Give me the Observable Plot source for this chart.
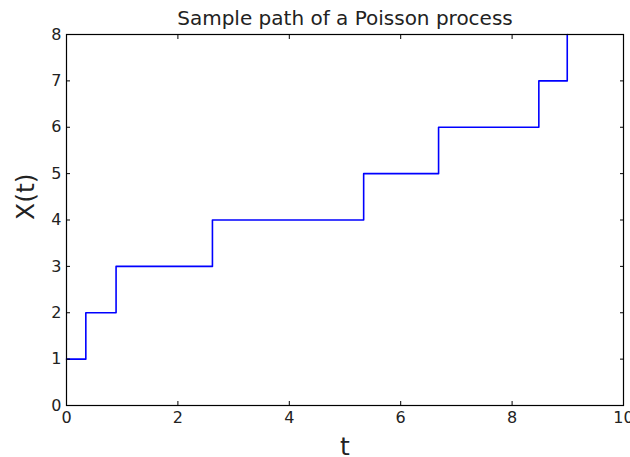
<!DOCTYPE html>
<html>
<head>
<meta charset="utf-8">
<script src="https://cdn.jsdelivr.net/npm/d3@7"></script>
<script src="https://cdn.jsdelivr.net/npm/@observablehq/plot@0.6"></script>
<style>
  html, body { margin: 0; padding: 0; background: #fff; }
  svg { font-family: "DejaVu Sans", sans-serif; }
</style>
</head>
<body>
<div id="chart"></div>
<script>
const jumpTimes = [0, 0.347, 0.89, 2.62, 5.335, 6.68, 8.48, 8.99];
const counts = [1, 2, 3, 4, 5, 6, 7, 8];
const xTicks = [0, 2, 4, 6, 8, 10];
const yTicks = [0, 1, 2, 3, 4, 5, 6, 7, 8];
const title = "Sample path of a Poisson process";
const xLabel = "t";
const yLabel = "X(t)";

const data = jumpTimes.map((t, i) => ({t, x: counts[i]}));
const noText = () => "";

const chart = Plot.plot({
  width: 630,
  height: 457,
  marginLeft: 66,
  marginRight: 7,
  marginTop: 34,
  marginBottom: 52,
  style: {fontFamily: "DejaVu Sans, sans-serif", fontSize: "16px", color: "#000", background: "#fff"},
  x: {domain: [0, 10]},
  y: {domain: [0, 8]},
  marks: [
    Plot.line(data, {x: "t", y: "x", curve: "step-after", stroke: "#0000ff", strokeWidth: 1.6}),
    Plot.frame({stroke: "#000", strokeWidth: 1.2}),
    Plot.axisX(xTicks, {anchor: "bottom", tickSize: -4, tickFormat: noText, label: null, stroke: "#000"}),
    Plot.axisX(xTicks, {anchor: "top", tickSize: -4, tickFormat: noText, label: null, stroke: "#000"}),
    Plot.axisY(yTicks, {anchor: "left", tickSize: -4, tickFormat: noText, label: null, stroke: "#000"}),
    Plot.axisY(yTicks, {anchor: "right", tickSize: -4, tickFormat: noText, label: null, stroke: "#000"}),
    Plot.axisX(xTicks, {anchor: "bottom", tickSize: 0, tickPadding: 6, label: null, fontSize: 16, fill: "#222"}),
    Plot.axisY(yTicks, {anchor: "left", tickSize: 0, tickPadding: 5, label: null, fontSize: 16, fill: "#222"}),
    Plot.text([title], {frameAnchor: "top", dy: -16, lineAnchor: "middle", fontSize: 20, fill: "#222"}),
    Plot.text([xLabel], {frameAnchor: "bottom", dy: 41, lineAnchor: "middle", fontSize: 25, fill: "#222"}),
    Plot.text([yLabel], {frameAnchor: "left", dx: -41, rotate: -90, lineAnchor: "middle", fontSize: 25, fill: "#222"})
  ]
});
document.getElementById("chart").appendChild(chart);
</script>
</body>
</html>
